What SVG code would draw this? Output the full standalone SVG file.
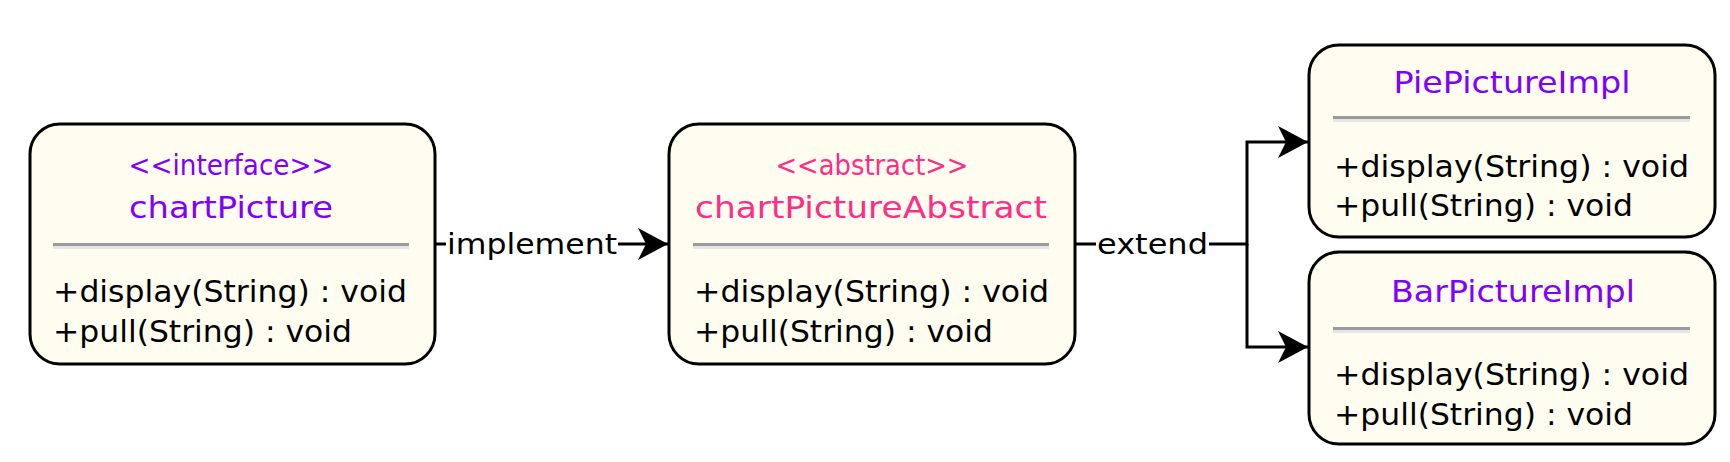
<svg xmlns="http://www.w3.org/2000/svg" width="1730" height="462" viewBox="0 0 1730 462">
<style>
.box{fill:#fffdf0;stroke:#000;stroke-width:3}
.sepd{fill:#9b9b9b}
.sepl{fill:#e6e6e6}
.t{font-family:"DejaVu Sans",sans-serif;fill:#000}
.title{font-size:31px;text-anchor:middle}
.stereo{font-size:28px;text-anchor:middle}
.meth{font-size:31px}
.purple{fill:#7f00ff}
.pink{fill:#ff2d86}
.lbl{font-family:"DejaVu Sans",sans-serif;font-size:29px;text-anchor:middle;fill:#000}
.edge{fill:none;stroke:#000;stroke-width:3}
.lblbg{fill:#fff}
</style>
<defs>
<marker id="arr" viewBox="0 0 30 32" refX="30" refY="16" markerWidth="30" markerHeight="32" markerUnits="userSpaceOnUse" orient="auto">
<path d="M0,0 L30,16 L0,32 L8,16 Z" fill="#000"/>
</marker>
</defs>
<g id="connectors">
<path class="edge" d="M435,244 H668" marker-end="url(#arr)"/>
<rect class="lblbg" x="446" y="228" width="172" height="36"/>
<text class="lbl" x="532" y="254" textLength="170" lengthAdjust="spacingAndGlyphs">implement</text>
<path class="edge" d="M1075,244 H1247 V142 H1308" marker-end="url(#arr)"/>
<path class="edge" d="M1247,244 V347 H1308" marker-end="url(#arr)"/>
<rect class="lblbg" x="1096" y="228" width="113" height="36"/>
<text class="lbl" x="1152.5" y="254" textLength="111" lengthAdjust="spacingAndGlyphs">extend</text>
</g>
<g id="chartPicture">
<rect class="box" x="30" y="124" width="405" height="240" rx="30" ry="30"/>
<text class="t stereo purple" x="231" y="175" textLength="205" lengthAdjust="spacingAndGlyphs">&lt;&lt;interface&gt;&gt;</text>
<text class="t title purple" x="231" y="218" textLength="204" lengthAdjust="spacingAndGlyphs">chartPicture</text>
<rect class="sepd" x="53" y="243" width="356" height="3"/>
<rect class="sepl" x="53" y="246" width="356" height="3"/>
<text class="t meth" x="53" y="302" textLength="354" lengthAdjust="spacingAndGlyphs">+display(String) : void</text>
<text class="t meth" x="53" y="342" textLength="299" lengthAdjust="spacingAndGlyphs">+pull(String) : void</text>
</g>
<g id="chartPictureAbstract">
<rect class="box" x="669" y="124" width="406" height="240" rx="30" ry="30"/>
<text class="t stereo pink" x="872" y="175" textLength="193" lengthAdjust="spacingAndGlyphs">&lt;&lt;abstract&gt;&gt;</text>
<text class="t title pink" x="871" y="218" textLength="352" lengthAdjust="spacingAndGlyphs">chartPictureAbstract</text>
<rect class="sepd" x="693" y="243" width="356" height="3"/>
<rect class="sepl" x="693" y="246" width="356" height="3"/>
<text class="t meth" x="694" y="302" textLength="355" lengthAdjust="spacingAndGlyphs">+display(String) : void</text>
<text class="t meth" x="694" y="342" textLength="299" lengthAdjust="spacingAndGlyphs">+pull(String) : void</text>
</g>
<g id="PiePictureImpl">
<rect class="box" x="1309" y="45" width="406" height="192" rx="30" ry="30"/>
<text class="t title purple" x="1512" y="93" textLength="237" lengthAdjust="spacingAndGlyphs">PiePictureImpl</text>
<rect class="sepd" x="1333" y="116" width="357" height="3"/>
<rect class="sepl" x="1333" y="119" width="357" height="3"/>
<text class="t meth" x="1334" y="177" textLength="355" lengthAdjust="spacingAndGlyphs">+display(String) : void</text>
<text class="t meth" x="1334" y="216" textLength="299" lengthAdjust="spacingAndGlyphs">+pull(String) : void</text>
</g>
<g id="BarPictureImpl">
<rect class="box" x="1309" y="252" width="406" height="192" rx="30" ry="30"/>
<text class="t title purple" x="1513" y="302" textLength="244" lengthAdjust="spacingAndGlyphs">BarPictureImpl</text>
<rect class="sepd" x="1333" y="327" width="357" height="3"/>
<rect class="sepl" x="1333" y="330" width="357" height="3"/>
<text class="t meth" x="1334" y="385" textLength="355" lengthAdjust="spacingAndGlyphs">+display(String) : void</text>
<text class="t meth" x="1334" y="425" textLength="299" lengthAdjust="spacingAndGlyphs">+pull(String) : void</text>
</g>
</svg>
